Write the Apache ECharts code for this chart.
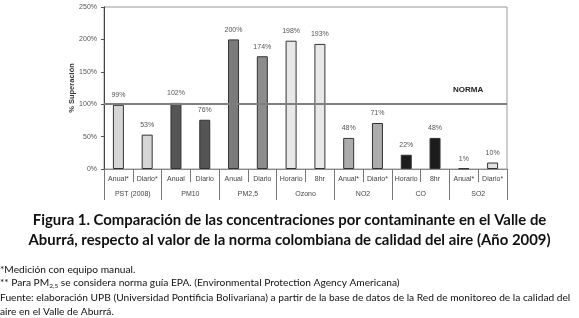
<!DOCTYPE html>
<html><head><meta charset="utf-8">
<script src="https://cdn.jsdelivr.net/npm/echarts@6/dist/echarts.min.js"></script>
<style>html,body{margin:0;padding:0;background:#fff}#c{width:579px;height:318px}</style>
</head><body><div id="c"></div>
<script>
var subLabels = ['Anual*','Diario*','Anual','Diario','Anual','Diario','Horario','8hr','Anual*','Diario*','Horario','8hr','Anual*','Diario*'];
var groups = ['PST (2008)','PM10','PM2,5','Ozono','NO2','CO','SO2'];
var values = [99,53,102,76,200,174,198,193,48,71,22,48,1,10];
var barColors = ['#d6d6d6','#d6d6d6','#555555','#555555','#7b7b7b','#8c8c8c','#e8e8e8','#e8e8e8','#acacac','#acacac','#1c1c1c','#1c1c1c','#1c1c1c','#e2e2e2'];
var norma = 100;
var yTicks = [0,50,100,150,200,250];

var chart = echarts.init(document.getElementById('c'), null, {renderer:'canvas'});
var font = 'Liberation Sans, Arial, sans-serif';
var tfont = 'Lato, "Open Sans", sans-serif';
chart.setOption({
  animation:false,
  grid:{left:104,right:72,top:7,bottom:149,show:true,borderColor:'#9a9a9a',borderWidth:1},
  xAxis:[
    {type:'category',data:subLabels,position:'bottom',
     axisLine:{lineStyle:{color:'#8a8a8a',width:1}},
     axisTick:{show:true,interval:0,length:13,lineStyle:{color:'#777'}},
     axisLabel:{interval:0,fontSize:7,color:'#444',fontFamily:font,margin:7}},
    {type:'category',data:groups,position:'bottom',
     axisLine:{show:false},
     axisTick:{show:true,interval:0,length:31,lineStyle:{color:'#777'}},
     axisLabel:{interval:0,fontSize:7,color:'#444',fontFamily:font,margin:22}}
  ],
  yAxis:{type:'value',min:yTicks[0],max:yTicks[yTicks.length-1],interval:50,
    name:'% Superación',nameLocation:'middle',nameGap:28,nameMoveOverlap:false,
    nameTextStyle:{fontSize:7.5,fontWeight:'bold',color:'#333',fontFamily:font},
    axisLine:{show:true,lineStyle:{color:'#444'}},
    axisTick:{show:true,length:3,lineStyle:{color:'#555'}},
    splitLine:{show:false},
    axisLabel:{formatter:'{value}%',fontSize:7,color:'#555',fontFamily:font,margin:7}},
  series:[{
    type:'bar',xAxisIndex:0,barWidth:11,
    data:values.map(function(v,i){return {value:v,itemStyle:{color:barColors[i],borderColor:'#333',borderWidth:1}};}),
    label:{show:true,position:'top',distance:6,formatter:'{c}%',fontSize:7,color:'#555',fontFamily:font},
    markLine:{silent:true,symbol:'none',label:{show:false},
      lineStyle:{color:'#7f7f7f',width:2,type:'solid'},data:[{yAxis:norma}]}
  }],
  graphic:[
    {type:'text',left:453,top:86,style:{text:'NORMA',font:'bold 8px '+font,fill:'#222'}},
    {type:'text',left:'center',top:210,style:{text:'Figura 1. Comparación de las concentraciones por contaminante en el Valle de\nAburrá, respecto al valor de la norma colombiana de calidad del aire (Año 2009)',font:'bold 14.9px '+tfont,fill:'#111',textAlign:'center',lineHeight:20}},
    {type:'text',left:0,top:265,style:{text:'*Medición con equipo manual.',font:'10.2px '+tfont,fill:'#111'}},
    {type:'text',left:0,top:278,style:{rich:{n:{font:'10.2px '+tfont,fill:'#111'},s:{font:'6.5px '+tfont,fill:'#111',padding:[5,0,0,0]}},text:'{n|** Para PM}{s|2,5}{n| se considera norma guía EPA. (Environmental Protection Agency Americana)}'}},
    {type:'text',left:0,top:291,style:{text:'Fuente: elaboración UPB (Universidad Pontificia Bolivariana) a partir de la base de datos de la Red de monitoreo de la calidad del\naire en el Valle de Aburrá.',font:'10.2px '+tfont,fill:'#111',lineHeight:13.5}}
  ]
});
</script></body></html>
